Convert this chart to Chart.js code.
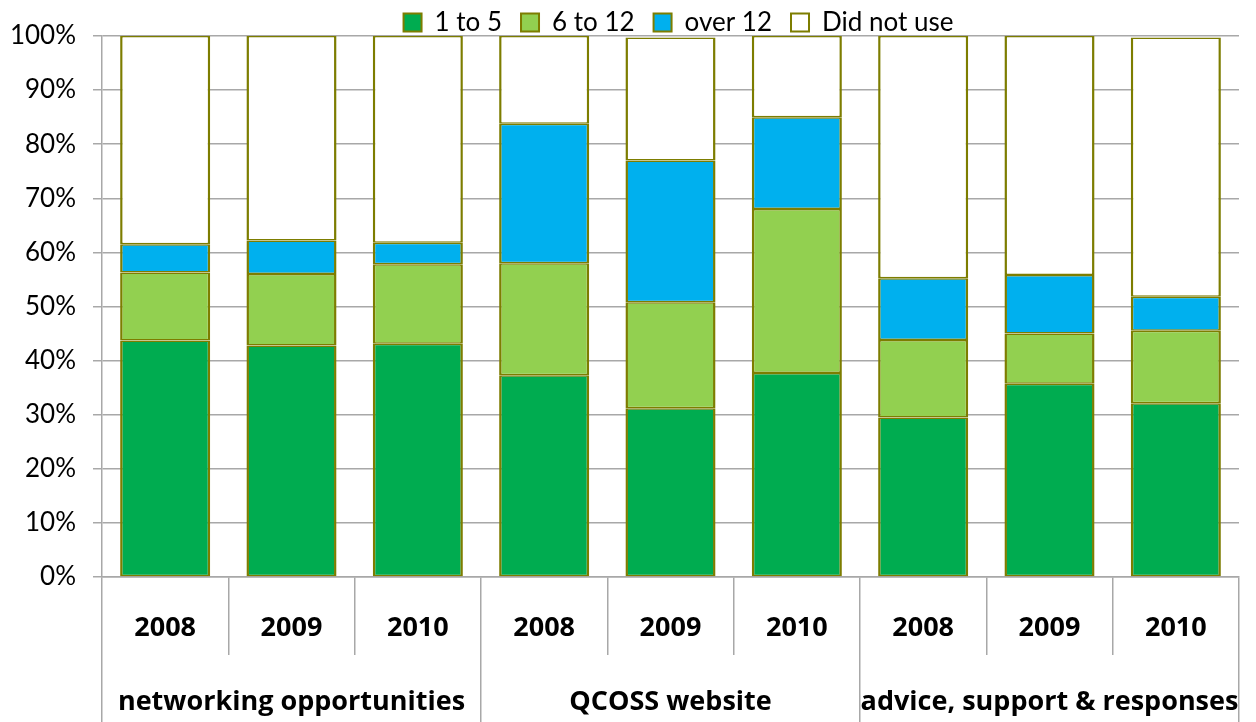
<!DOCTYPE html>
<html>
<head>
<meta charset="utf-8">
<title>Korzystanie z usług</title>
<script src="https://cdn.jsdelivr.net/npm/chart.js@4.4.1/dist/chart.umd.min.js"></script>
<style>
  html, body { margin: 0; padding: 0; background: #fff; }
  #wrap { width: 1256px; height: 722px; position: relative; }
</style>
</head>
<body>
<div id="wrap"><canvas id="wykres"></canvas></div>
<script>
// ────────────────────────────────────────────────
// DANE (w %)
// ────────────────────────────────────────────────
const lata = ["2008", "2009", "2010", "2008", "2009", "2010", "2008", "2009", "2010"];
const grupy = ["networking opportunities", "QCOSS website", "advice, support & responses"];
const serie = ["1 to 5", "6 to 12", "over 12", "Did not use"];

const od1do5   = [43.7, 42.8, 43.1, 37.3, 31.2, 37.7, 29.5, 35.7, 32.1];
const od6do12  = [12.6, 13.2, 14.7, 20.7, 19.6, 30.3, 14.3,  9.3, 13.4];
const ponad12  = [ 5.2,  6.2,  4.0, 25.8, 26.2, 17.0, 11.4, 10.8,  6.3];
const nieUzyto = [38.5, 37.8, 38.2, 16.2, 22.7, 15.0, 44.8, 44.2, 47.9];

const yMax = 100;
const yKrok = 10;

// ────────────────────────────────────────────────
// WYGLĄD
// ────────────────────────────────────────────────
const FONT = "Lato";
const FONT_OS = "Open Sans";
const SIATKA = "#a8a8a8";
const OBRAMOWANIE = "#7d7d00";
const kolory = ["#00ac50", "#92d050", "#00b0ee", "#ffffff"];
const wartosci = [od1do5, od6do12, ponad12, nieUzyto];

const LEGENDA_H = 36;

// legenda: stała wysokość i lekkie przesunięcie (bottom zostaje, bo legenda się przycina)
const legendaPlugin = {
  id: "legendaFit",
  afterInit(chart) {
    const fit = chart.legend.fit;
    chart.legend.fit = function () {
      fit.call(this);
      this.height = LEGENDA_H;
    };
  },
  afterLayout(chart) {
    const l = chart.legend;
    l.left += 8; l.right += 8;
    l.top -= 9.5;
  }
};

const datasets = serie.map((nazwa, i) => ({
  label: nazwa,
  data: wartosci[i],
  backgroundColor: kolory[i],
  borderColor: OBRAMOWANIE,
  borderWidth: { left: 2.5, right: 2.5, top: 1.5, bottom: 1.5 },
  borderSkipped: false,
  barPercentage: 0.713,
  categoryPercentage: 1
}));

new Chart(document.getElementById("wykres"), {
  type: "bar",
  data: { labels: lata, datasets },
  plugins: [legendaPlugin],
  options: {
    responsive: true,
    maintainAspectRatio: false,
    animation: false,
    layout: { padding: { left: 0, right: 17, top: 0, bottom: 0 } },
    plugins: {
      tooltip: { enabled: false },
      legend: {
        position: "top",
        fullSize: false,
        labels: {
          boxWidth: 18,
          boxHeight: 18,
          padding: 19,
          color: "#000",
          font: { family: FONT, size: 26 }
        }
      }
    },
    scales: {
      x: {
        stacked: true,
        grid: { offset: true, drawOnChartArea: false, tickLength: 78, color: SIATKA, lineWidth: 1.5 },
        border: { color: SIATKA, width: 1.5 },
        ticks: {
          autoSkip: false, maxRotation: 0, padding: -43, color: "#000",
          font: { family: FONT_OS, size: 27, weight: "bold" }
        },
        afterFit(scale) { scale.height = 78; }
      },
      x2: {
        type: "category",
        labels: grupy,
        position: "bottom",
        offset: true,
        grid: { offset: true, drawOnChartArea: false, tickLength: 67, color: SIATKA, lineWidth: 1.5 },
        border: { display: false },
        ticks: {
          autoSkip: false, maxRotation: 0, padding: -36, color: "#000",
          font: { family: FONT_OS, size: 27, weight: "bold" }
        },
        afterFit(scale) { scale.height = 67; }
      },
      y: {
        stacked: true,
        min: 0,
        max: yMax,
        grid: { color: SIATKA, lineWidth: 1.5, tickLength: 9 },
        border: { color: SIATKA, width: 1.5 },
        ticks: {
          stepSize: yKrok,
          padding: 17,
          color: "#000",
          font: { family: FONT, size: 26 },
          callback: v => v + "%"
        },
        afterFit(scale) { scale.width = 102; }
      }
    }
  }
});
</script>
</body>
</html>
